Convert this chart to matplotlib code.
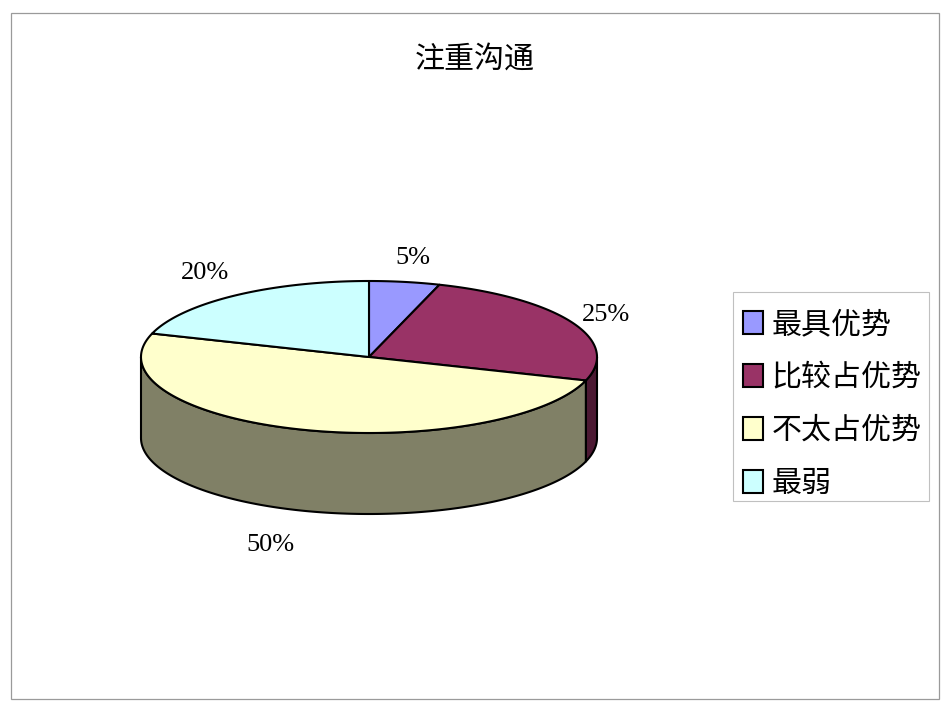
import numpy as np
import matplotlib
matplotlib.use("Agg")
import matplotlib.pyplot as plt
from matplotlib.patches import Rectangle, Patch

plt.rcParams['font.family'] = ['Noto Sans CJK SC', 'DejaVu Sans']

title = "注重沟通"
categories = ["最具优势", "比较占优势", "不太占优势", "最弱"]
values = [5, 25, 50, 20]
top_colors = ["#9999FF", "#993366", "#FFFFCC", "#CCFFFF"]
wall_colors = ["#4C4C80", "#4C1933", "#808066", "#668080"]

W, H = 950, 713
CX, CY, RX, RY, DEPTH = 369, 357, 228, 76, 81
LABEL_XY = [(413, 258), (606, 315), (270, 545), (205, 273)]

fig = plt.figure(figsize=(W / 100, H / 100), dpi=100, facecolor="white")
ax = fig.add_axes([0, 0, 1, 1])
ax.set_xlim(0, W)
ax.set_ylim(H, 0)
ax.axis("off")


def rim(a0, a1, drop=0.0):
    t = np.radians(np.linspace(a0, a1, max(int(abs(a1 - a0) * 2), 2)))
    return CX + RX * np.sin(t), CY - RY * np.cos(t) + drop


ax.add_patch(Rectangle((11, 13), 928, 686, fc="white", ec="#9a9a9a", lw=0.9))
ax.add_patch(Rectangle((733, 292), 196, 209, fc="white", ec="#c0c0c0", lw=0.8))

edges = np.cumsum([0] + values) / sum(values) * 360.0

# side walls: only the part of the rim on the near side (90..270 degrees) shows
for v0, v1, wc in zip(edges[:-1], edges[1:], wall_colors):
    a0, a1 = max(v0, 90), min(v1, 270)
    if a1 <= a0:
        continue
    x, y = rim(a0, a1)
    xb, yb = rim(a0, a1, DEPTH)
    ax.fill(np.r_[x, xb[::-1]], np.r_[y, yb[::-1]], fc=wc, ec="black", lw=1.5,
            joinstyle="round", zorder=2)

# top faces
for v0, v1, tc in zip(edges[:-1], edges[1:], top_colors):
    x, y = rim(v0, v1)
    ax.fill(np.r_[CX, x], np.r_[CY, y], fc=tc, ec="black", lw=1.5,
            joinstyle="round", zorder=3)

ax.text(475, 60, title, fontsize=21.6, ha="center", va="center", color="black",
        fontweight="light")

for (lx, ly), v in zip(LABEL_XY, values):
    ax.text(lx, ly, f"{v}%", fontsize=19, ha="center", va="center", color="black",
            family=["Liberation Sans Narrow", "Liberation Serif"])

handles = [Patch(fc=c, ec="black", lw=1.5) for c in top_colors]
leg = fig.legend(handles, categories, loc="upper left",
                 bbox_to_anchor=(733 / W, 1 - 299 / H), bbox_transform=fig.transFigure,
                 frameon=False, borderaxespad=0, borderpad=0.33,
                 handlelength=0.66, handleheight=0.82, handletextpad=0.30,
                 labelspacing=0.733, prop={"size": 21.6, "weight": "light"})

fig.savefig("out.png", dpi=100, facecolor="white")
